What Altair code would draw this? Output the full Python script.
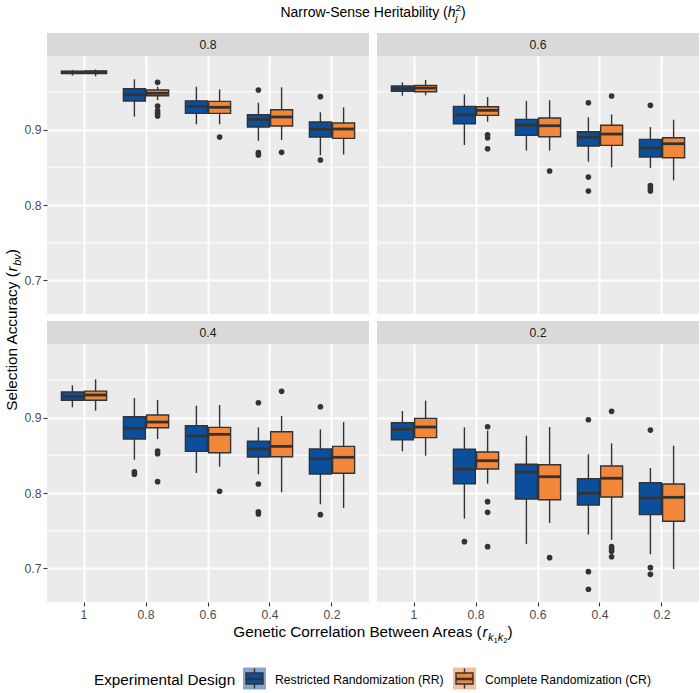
import altair as alt
import pandas as pd

FONT = "Liberation Sans"

# ---------------------------------------------------------------- data
R_LEVELS = ["1", "0.8", "0.6", "0.4", "0.2"]          # genetic correlation between areas
H_LEVELS = ["0.8", "0.6", "0.4", "0.2"]               # narrow-sense heritability (facets)
DESIGNS = ["Restricted Randomization (RR)", "Complete Randomization (CR)"]
FILLS = ["#0B4F9C", "#F2873A"]
KEY_BG = ["#88A6CA", "#F0BF9E"]

# box-plot summaries (lower whisker, Q1, median, Q3, upper whisker), in R_LEVELS order
rr_lo = {"0.8": [0.9715, 0.917, 0.907, 0.885, 0.866],
         "0.6": [0.9448, 0.8795, 0.872, 0.8574, 0.849],
         "0.4": [0.9135, 0.8441, 0.8265, 0.8248, 0.785],
         "0.2": [0.8552, 0.766, 0.7325, 0.7449, 0.7188]}
rr_q1 = {"0.8": [0.9742, 0.9377, 0.9214, 0.9033, 0.890],
         "0.6": [0.9506, 0.9077, 0.8923, 0.8781, 0.8636],
         "0.4": [0.9228, 0.8715, 0.8552, 0.8477, 0.8252],
         "0.2": [0.8706, 0.8123, 0.792, 0.7841, 0.7713]}
rr_med = {"0.8": [0.9758, 0.946, 0.9307, 0.9135, 0.9003],
          "0.6": [0.954, 0.9192, 0.9056, 0.8897, 0.8755],
          "0.4": [0.9276, 0.8857, 0.8755, 0.8583, 0.8455],
          "0.2": [0.8843, 0.8314, 0.8278, 0.7996, 0.7934]}
rr_q3 = {"0.8": [0.9774, 0.954, 0.938, 0.9196, 0.910],
         "0.6": [0.9576, 0.9307, 0.9135, 0.8971, 0.887],
         "0.4": [0.9338, 0.901, 0.8891, 0.8685, 0.8583],
         "0.2": [0.8931, 0.8579, 0.838, 0.819, 0.8137]}
rr_hi = {"0.8": [0.979, 0.9665, 0.9567, 0.9355, 0.9228],
         "0.6": [0.9625, 0.9466, 0.938, 0.9162, 0.9033],
         "0.4": [0.9426, 0.9258, 0.9157, 0.887, 0.8843],
         "0.2": [0.9086, 0.887, 0.8759, 0.8512, 0.8331]}

cr_lo = {"0.8": [0.9705, 0.939, 0.907, 0.886, 0.867],
         "0.6": [0.9453, 0.9103, 0.872, 0.85, 0.8327],
         "0.4": [0.909, 0.8715, 0.8348, 0.801, 0.7801],
         "0.2": [0.8494, 0.8123, 0.7603, 0.7378, 0.6993]}
cr_q1 = {"0.8": [0.9742, 0.9448, 0.9214, 0.9046, 0.8883],
         "0.6": [0.9501, 0.9188, 0.8905, 0.879, 0.8627],
         "0.4": [0.9228, 0.8865, 0.8534, 0.8481, 0.8261],
         "0.2": [0.8733, 0.8318, 0.7911, 0.7947, 0.7625]}
cr_med = {"0.8": [0.976, 0.948, 0.9294, 0.9166, 0.9007],
          "0.6": [0.955, 0.9254, 0.905, 0.894, 0.8812],
          "0.4": [0.9298, 0.894, 0.8777, 0.8618, 0.8473],
          "0.2": [0.8874, 0.8428, 0.8216, 0.8195, 0.7943]}
cr_q3 = {"0.8": [0.9776, 0.9523, 0.9373, 0.9262, 0.9086],
         "0.6": [0.9585, 0.9302, 0.9152, 0.9056, 0.8891],
         "0.4": [0.935, 0.9033, 0.887, 0.8812, 0.8618],
         "0.2": [0.8989, 0.8543, 0.8375, 0.8358, 0.8119]}
cr_hi = {"0.8": [0.9795, 0.9567, 0.9532, 0.9559, 0.9294],
         "0.6": [0.9656, 0.943, 0.9387, 0.920, 0.913],
         "0.4": [0.9506, 0.9232, 0.9166, 0.902, 0.894],
         "0.2": [0.9223, 0.8826, 0.8874, 0.8658, 0.8627]}

# outlying replicates: heritability -> correlation -> values
rr_out = {"0.8": {"0.4": [0.9523, 0.8693, 0.8662], "0.2": [0.9435, 0.8596]},
          "0.6": {"0.4": [0.9355, 0.837, 0.8185], "0.2": [0.932, 0.8256, 0.8216, 0.8185]},
          "0.4": {"0.8": [0.8282, 0.8248], "0.4": [0.9196, 0.8119, 0.7752, 0.7722],
                  "0.2": [0.9143, 0.7713]},
          "0.2": {"0.8": [0.7355], "0.4": [0.8971, 0.6958, 0.6725],
                  "0.2": [0.8834, 0.7011, 0.6923]}}
cr_out = {"0.8": {"0.8": [0.9625, 0.931, 0.925, 0.9215, 0.918], "0.6": [0.890], "0.4": [0.8698]},
          "0.6": {"0.8": [0.893, 0.889, 0.8745], "0.6": [0.845], "0.4": [0.9444]},
          "0.4": {"0.8": [0.8556, 0.852, 0.815], "0.6": [0.8023], "0.4": [0.9347]},
          "0.2": {"0.8": [0.8878, 0.7885, 0.7744, 0.7289], "0.6": [0.7143],
                  "0.4": [0.9082, 0.7289, 0.7258, 0.7228, 0.7156]}}

Y_TICKS = [0.7, 0.8, 0.9]
Y_MINOR = [0.75, 0.85, 0.95]
Y_DOMAIN = [0.6556, 0.9974]

# ---------------------------------------------------------------- tables
stats = {DESIGNS[0]: (rr_lo, rr_q1, rr_med, rr_q3, rr_hi),
         DESIGNS[1]: (cr_lo, cr_q1, cr_med, cr_q3, cr_hi)}
outs = {DESIGNS[0]: rr_out, DESIGNS[1]: cr_out}

box_rows, out_rows = [], []
for h in H_LEVELS:
    for d in DESIGNS:
        lo, q1, med, q3, hi = stats[d]
        for i, r in enumerate(R_LEVELS):
            box_rows.append(dict(h=h, r=r, design=d, lo=lo[h][i], q1=q1[h][i],
                                 med=med[h][i], q3=q3[h][i], hi=hi[h][i]))
        for r, vals in outs[d][h].items():
            for v in vals:
                out_rows.append(dict(h=h, r=r, design=d, value=v))
box_df = pd.DataFrame(box_rows)
out_df = pd.DataFrame(out_rows)
minor_df = pd.DataFrame({"v": Y_MINOR})
ONE = pd.DataFrame({"k": [0]})

# ---------------------------------------------------------------- layout
PW, PH = 322, 258          # panel size
GAP_X, GAP_Y = 8, 7
STRIP_H = 23
HEAD_H, FOOT_H = 33, 90
LEFT = 47                  # room for the y axis
TOTAL_W = 2 * PW + GAP_X
TOTAL_H = HEAD_H + 2 * (STRIP_H + PH) + GAP_Y + FOOT_H
INK = "#333333"

# Arial / Liberation Sans advance widths (per 1000 em)
_W = {' ': 278, '(': 333, ')': 333, '-': 333, 'A': 667, 'B': 667, 'C': 722, 'D': 722,
      'E': 667, 'G': 778, 'H': 722, 'N': 722, 'R': 722, 'S': 667}
_W.update({c: 556 for c in "abdeghnopqu0123456789"})
_W.update({c: 500 for c in "cksvxyz"})
_W.update({'i': 222, 'j': 222, 'l': 222, 'f': 278, 't': 278, 'r': 333, 'm': 833, 'w': 722})


def text_width(s, size):
    return sum(_W.get(c, 556) for c in s) * size / 1000.0


def rich_text(pieces, cx, cy, angle=0, color="black"):
    """Lay out (text, size, italic, rise, advance) pieces centred on (cx, cy)."""
    advs = [p[4] if p[4] is not None else text_width(p[0], p[1]) for p in pieces]
    total = sum(advs)
    base = max(p[1] for p in pieces) * 0.35
    if angle == 0:
        x0, y0 = cx - total / 2, cy + base
    else:
        x0, y0 = cx + base, cy + total / 2
    layers, cum = [], 0.0
    for (txt, size, italic, rise, _), adv in zip(pieces, advs):
        layers.append(
            alt.Chart(ONE).mark_text(
                text=txt, font=FONT, fontSize=size,
                fontStyle="italic" if italic else "normal",
                align="left", baseline="alphabetic", angle=angle,
                dx=cum, dy=rise, color=color,
            ).encode(x=alt.value(x0), y=alt.value(y0))
        )
        cum += adv
    return layers


def anchor(x, y):
    """A one-pixel white dot that pins the outer extent of the figure."""
    return alt.Chart(ONE).mark_rect(fill="white").encode(
        x=alt.value(x), x2=alt.value(x + 1), y=alt.value(y), y2=alt.value(y + 1))


def panel(h, bottom, left, extra=()):
    bdf = box_df[box_df.h == h]
    odf = out_df[out_df.h == h]
    xax = alt.Axis(title=None, grid=True, gridColor="white", gridWidth=2, bandPosition=0.5,
                   domain=False, ticks=bottom, labels=bottom, tickColor=INK,
                   tickSize=4, tickWidth=1.1, labelAngle=0, labelColor="#4D4D4D",
                   labelFontSize=12.2, labelFont=FONT, labelPadding=2)
    yax = alt.Axis(title=None, values=Y_TICKS, format=".1f", grid=True, gridColor="white",
                   gridWidth=2, domain=False, ticks=left, labels=left, tickColor=INK,
                   tickSize=4, tickWidth=1.1, labelColor="#4D4D4D", labelFontSize=12.2,
                   labelFont=FONT, labelPadding=2)
    xs = alt.Scale(domain=R_LEVELS, paddingInner=0, paddingOuter=0.0968)
    x = alt.X("r:N", sort=R_LEVELS, scale=xs, axis=xax)
    xo = alt.XOffset("design:N", sort=DESIGNS,
                     scale=alt.Scale(domain=DESIGNS, paddingInner=0.052, paddingOuter=0.362))
    ys = alt.Scale(domain=Y_DOMAIN, nice=False, zero=False)

    minor = alt.Chart(minor_df).mark_rule(color="white", strokeWidth=1).encode(
        y=alt.Y("v:Q", scale=ys, axis=yax))
    whisk = alt.Chart(bdf).mark_rule(color=INK, strokeWidth=1.4).encode(
        x=x, xOffset=xo, y=alt.Y("lo:Q", scale=ys, axis=yax), y2="hi:Q")
    box = alt.Chart(bdf).mark_bar(stroke=INK, strokeWidth=1.4).encode(
        x=x, xOffset=xo, y=alt.Y("q1:Q", scale=ys, axis=yax), y2="q3:Q",
        fill=alt.Fill("design:N", scale=alt.Scale(domain=DESIGNS, range=FILLS), legend=None))
    med = alt.Chart(bdf).mark_tick(color=INK, thickness=2.8, size=22, opacity=1).encode(
        x=x, xOffset=xo, y=alt.Y("med:Q", scale=ys, axis=yax))
    pts = alt.Chart(odf).mark_circle(color=INK, size=32, opacity=1).encode(
        x=x, xOffset=xo, y=alt.Y("value:Q", scale=ys, axis=yax))

    return alt.layer(minor, whisk, box, med, pts, *extra).properties(
        width=PW, height=PH, view=alt.ViewBackground(fill="#EBEBEB", stroke=None))


def strip(h, gap, extra=()):
    """Grey facet label; `gap` leaves white space above it."""
    bg = alt.Chart(ONE).mark_rect(fill="#D9D9D9").encode(
        x=alt.value(0), x2=alt.value(PW), y=alt.value(gap), y2=alt.value(gap + STRIP_H))
    label = alt.Chart(pd.DataFrame({"h": [h]})).mark_text(
        font=FONT, fontSize=12.2, color="#1A1A1A", baseline="middle", align="center"
    ).encode(x=alt.value(PW / 2), y=alt.value(gap + STRIP_H / 2), text="h:N")
    return alt.layer(*extra, bg, label).properties(
        width=PW, height=gap + STRIP_H, view=alt.ViewBackground(fill=None, stroke=None))


# overall facet title, drawn above the first strip
title_layers = rich_text(
    [("Narrow-Sense Heritability (", 14, False, 0, None), ("h", 14, True, 0, None),
     ("j", 9.8, True, 3.5, 0.0), ("2", 9.8, False, -6.5, None), (")", 14, False, 0, None)],
    cx=TOTAL_W / 2, cy=12.5 - HEAD_H)

# y-axis title, drawn beside the top-left panel (panel top at y = HEAD_H + STRIP_H)
top_plot_y = HEAD_H + STRIP_H
ytitle = rich_text(
    [("Selection Accuracy (", 15.3, False, 0, None), ("r", 15.3, True, 0, 5.6),
     ("bv", 10.9, True, 3.5, None), (")", 15.3, False, 0, None)],
    cx=12 - LEFT, cy=330 - top_plot_y, angle=270)

# x-axis title and legend, drawn below the bottom-left panel
bot_plot_y = HEAD_H + 2 * STRIP_H + PH + GAP_Y
xtitle = rich_text(
    [("Genetic Correlation Between Areas (", 15.3, False, 0, None),
     ("r", 15.3, True, 0, 5.6), ("k", 10.9, True, 3.5, None), ("1", 7.7, False, 5.5, None),
     ("k", 10.9, True, 3.5, None), ("2", 7.7, False, 5.5, None), (")", 15.3, False, 0, None)],
    cx=TOTAL_W / 2, cy=632 - bot_plot_y)

LEG_CY = 678.5 - bot_plot_y
legend_layers = [
    alt.Chart(ONE).mark_text(text="Experimental Design", font=FONT, fontSize=15.3,
                             color="black", align="left", baseline="middle").encode(
        x=alt.value(94 - LEFT), y=alt.value(LEG_CY + 1))
]
for key_x, lab_x, d, fill, bg in zip([196, 406], [228, 438], DESIGNS, FILLS, KEY_BG):
    legend_layers += [
        alt.Chart(ONE).mark_rect(fill=bg).encode(
            x=alt.value(key_x), x2=alt.value(key_x + 23),
            y=alt.value(LEG_CY - 11), y2=alt.value(LEG_CY + 11)),
        alt.Chart(ONE).mark_rule(color=INK, strokeWidth=1.4).encode(
            x=alt.value(key_x + 11.5), y=alt.value(LEG_CY - 10), y2=alt.value(LEG_CY + 10)),
        alt.Chart(ONE).mark_rect(fill=fill, stroke=INK, strokeWidth=1.4).encode(
            x=alt.value(key_x + 3), x2=alt.value(key_x + 20),
            y=alt.value(LEG_CY - 5.5), y2=alt.value(LEG_CY + 5.5)),
        alt.Chart(ONE).mark_rule(color=INK, strokeWidth=2.6).encode(
            x=alt.value(key_x + 3), x2=alt.value(key_x + 20),
            y=alt.value(LEG_CY + 0.5)),
        alt.Chart(ONE).mark_text(text=d, font=FONT, fontSize=12.2, color="black",
                                 align="left", baseline="middle").encode(
            x=alt.value(lab_x), y=alt.value(LEG_CY + 1)),
    ]

cells = [
    strip("0.8", 0, extra=[anchor(-LEFT, -HEAD_H), *title_layers]),
    strip("0.6", 0),
    panel("0.8", False, True, extra=ytitle),
    panel("0.6", False, False),
    strip("0.4", GAP_Y),
    strip("0.2", GAP_Y),
    panel("0.4", True, True, extra=[*xtitle, *legend_layers]),
    panel("0.2", True, False,
          extra=[anchor(PW, TOTAL_H - bot_plot_y - 1)]),
]

chart = alt.concat(*cells, columns=2, spacing={"row": 0, "column": GAP_X},
                   bounds="flush").properties(
    padding=0, autosize=alt.AutoSizeParams(type="pad"), background="white"
).configure_view(stroke=None)

chart.save("out.html", embed_options={"renderer": "svg", "actions": False})
